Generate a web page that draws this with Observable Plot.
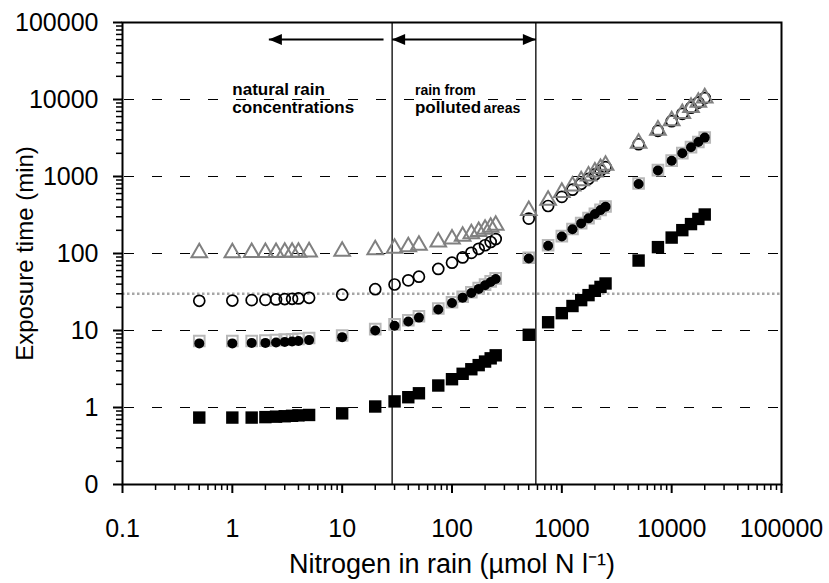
<!DOCTYPE html>
<html>
<head>
<meta charset="utf-8">
<script src="https://cdn.jsdelivr.net/npm/d3@7"></script>
<script src="https://cdn.jsdelivr.net/npm/@observablehq/plot@0.6"></script>
<style>
  html, body { margin: 0; padding: 0; background: #fff; }
</style>
</head>
<body>
<div id="chart"></div>
<script>
// ---- data ----
const nitrogen = [0.5, 1, 1.5, 2, 2.5, 3, 3.5, 4, 5, 10, 20, 30, 40, 50, 75, 100, 125, 150, 175, 200, 225, 250,
  500, 750, 1000, 1250, 1500, 1750, 2000, 2250, 2500, 5000, 7500, 10000, 12500, 15000, 17500, 20000];
const filledSquares = [0.74, 0.74, 0.74, 0.75, 0.76, 0.77, 0.78, 0.79, 0.80, 0.84, 1.03, 1.2, 1.36, 1.53,
  1.93, 2.33, 2.74, 3.14, 3.55, 3.95, 4.35, 4.76, 8.8, 12.8, 16.8, 20.8, 24.8, 28.8, 32.8, 36.8, 40.8,
  81, 121, 161, 201, 241, 281, 321];
const greySquares = [7.3, 7.3, 7.3, 7.4, 7.5, 7.6, 7.7, 7.8, 8.0, 8.6, 10.4, 12.0, 13.6, 15.3,
  19.3, 23.3, 27.4, 31.4, 35.5, 39.5, 43.5, 47.6, 88, 128, 168, 208, 248, 288, 328, 368, 408,
  810, 1210, 1610, 2010, 2410, 2810, 3210];
const filledCircles = [6.8, 6.8, 6.9, 6.9, 7.0, 7.1, 7.2, 7.3, 7.5, 8.2, 10.0, 11.5, 13.1, 14.7,
  18.7, 22.7, 26.7, 30.7, 34.7, 38.7, 42.7, 46.7, 86, 126, 166, 206, 246, 286, 326, 366, 406,
  800, 1200, 1600, 2000, 2400, 2800, 3200];
const openCircles = [24.3, 24.5, 24.8, 25, 25.3, 25.6, 25.8, 26.1, 26.6, 29.2, 34.4, 39.6, 44.8, 50,
  63, 76, 89, 102, 115, 128, 141, 154, 284, 414, 544, 674, 804, 934, 1064, 1194, 1324,
  2624, 3924, 5224, 6524, 7824, 9124, 10424];
const triangles = [102, 102, 103, 103, 103, 104, 104, 104, 105, 107, 112, 117, 122, 128,
  141, 154, 167, 180, 193, 206, 219, 232, 362, 492, 622, 752, 882, 1012, 1142, 1272, 1402,
  2700, 4000, 5300, 6600, 7900, 9200, 10500];

const yTickValues = [0.1, 1, 10, 100, 1000, 10000, 100000];
const yTickLabels = ["0", "1", "10", "100", "1000", "10000", "100000"];
const xTickValues = [0.1, 1, 10, 100, 1000, 10000, 100000];
const xTickLabels = ["0.1", "1", "10", "100", "1000", "10000", "100000"];
const dashedLevels = [1, 10, 100, 1000, 10000];
const thresholdLevel = [30];
const boundaries = [28.5, 580];

const xTitle = "Nitrogen in rain (µmol N l⁻¹)";
const yTitle = "Exposure time (min)";

const noteLabels = ["natural rain", "concentrations", "rain from", "polluted", "areas"];
const noteX = [1, 1, 46, 46, 194];
const noteY = [11500, 6600, 11500, 6600, 6600];
const noteBig = [true, true, false, true, false];

const arrowLevel = 60000;
const leftArrowSpan = [2.15, 23.8];   // head at the small end
const middleArrowSpan = [28.5, 580];  // heads at both ends

// ---- derived tables ----
const rows = nitrogen.map((n, i) => ({
  n, a: filledSquares[i], b: greySquares[i], c: filledCircles[i], d: openCircles[i], e: triangles[i]
}));
const yLabelMap = new Map(yTickValues.map((v, i) => [v, yTickLabels[i]]));
const xLabelMap = new Map(xTickValues.map((v, i) => [v, xTickLabels[i]]));
const minorOf = (majors) => majors.slice(0, -1).flatMap(m => [2, 3, 4, 5, 6, 7, 8, 9].map(k => +(m * k).toPrecision(6)));
const xMinor = minorOf(xTickValues);
const yMinor = minorOf(yTickValues);
const notes = noteLabels.map((t, i) => ({t, x: noteX[i], y: noteY[i], big: noteBig[i]}));
const arrowLines = [
  {x1: leftArrowSpan[0], x2: leftArrowSpan[1], y: arrowLevel},
  {x1: middleArrowSpan[0], x2: middleArrowSpan[1], y: arrowLevel}
];
const headsLeft = [{x: leftArrowSpan[0], y: arrowLevel}, {x: middleArrowSpan[0], y: arrowLevel}];
const headsRight = [{x: middleArrowSpan[1], y: arrowLevel}];

const headLeftSymbol = {draw(ctx) { ctx.moveTo(0, 0); ctx.lineTo(13, -5.5); ctx.lineTo(13, 5.5); ctx.closePath(); }};
const headRightSymbol = {draw(ctx) { ctx.moveTo(0, 0); ctx.lineTo(-13, -5.5); ctx.lineTo(-13, 5.5); ctx.closePath(); }};

const FONT = "'Liberation Sans', Arial, Helvetica, sans-serif";

const chart = Plot.plot({
  width: 829,
  height: 583,
  marginLeft: 122,
  marginRight: 48,
  marginTop: 22,
  marginBottom: 99,
  style: {fontFamily: FONT, color: "#000", background: "#fff"},
  x: {type: "log", domain: [0.1, 100000], label: null},
  y: {type: "log", domain: [0.1, 100000], label: null},
  marks: [
    Plot.ruleY(dashedLevels, {stroke: "#000", strokeWidth: 1, strokeDasharray: "10,18", strokeDashoffset: 26}),
    Plot.ruleY(thresholdLevel, {stroke: "#a6a6a6", strokeWidth: 2.5, strokeDasharray: "2.5,2.5"}),
    Plot.ruleX(boundaries, {stroke: "#000", strokeWidth: 1.3}),
    Plot.link(arrowLines, {x1: "x1", x2: "x2", y1: "y", y2: "y", stroke: "#000", strokeWidth: 2}),
    Plot.dot(headsLeft, {x: "x", y: "y", symbol: headLeftSymbol, fill: "#000", stroke: "none"}),
    Plot.dot(headsRight, {x: "x", y: "y", symbol: headRightSymbol, fill: "#000", stroke: "none"}),
    Plot.text(notes.filter(d => d.big), {x: "x", y: "y", text: "t", textAnchor: "start", lineAnchor: "bottom", fontSize: 17, fontWeight: "bold", fill: "#000"}),
    Plot.text(notes.filter(d => !d.big), {x: "x", y: "y", text: "t", textAnchor: "start", lineAnchor: "bottom", fontSize: 14, fontWeight: "bold", fill: "#000"}),
    // series
    Plot.dot(rows, {x: "n", y: "a", symbol: "square", r: 7, fill: "#000", stroke: "none"}),
    Plot.dot(rows, {x: "n", y: "b", symbol: "square", r: 6, fill: "none", stroke: "#b8b8b8", strokeWidth: 2}),
    Plot.dot(rows, {x: "n", y: "c", symbol: "circle", r: 5, fill: "#000", stroke: "none"}),
    Plot.dot(rows, {x: "n", y: "d", symbol: "circle", r: 5.5, fill: "none", stroke: "#000", strokeWidth: 1.7}),
    Plot.dot(rows, {x: "n", y: "e", symbol: "triangle", r: 5.8, fill: "none", stroke: "#808080", strokeWidth: 2}),
    // frame and axes
    Plot.frame({stroke: "#000", strokeWidth: 2}),
    Plot.axisY(yMinor, {tickSize: 6, strokeWidth: 1.5, tickFormat: () => "", label: null}),
    Plot.axisY(yTickValues, {tickSize: 9, strokeWidth: 2, tickPadding: 15, fontSize: 25, tickFormat: d => yLabelMap.get(d), label: null}),
    Plot.axisX(xMinor, {tickSize: 6, strokeWidth: 1.5, tickFormat: () => "", label: null}),
    Plot.axisX(xTickValues, {tickSize: 9, strokeWidth: 2, tickPadding: 26, fontSize: 25, tickFormat: d => xLabelMap.get(d), label: null}),
    Plot.text([xTitle], {frameAnchor: "bottom", dy: 80, text: d => d, fontSize: 27, lineAnchor: "middle", textAnchor: "middle"}),
    Plot.text([yTitle], {frameAnchor: "left", dx: -97, rotate: -90, text: d => d, fontSize: 24, lineAnchor: "middle", textAnchor: "middle"})
  ]
});
document.getElementById("chart").append(chart);
</script>
</body>
</html>
